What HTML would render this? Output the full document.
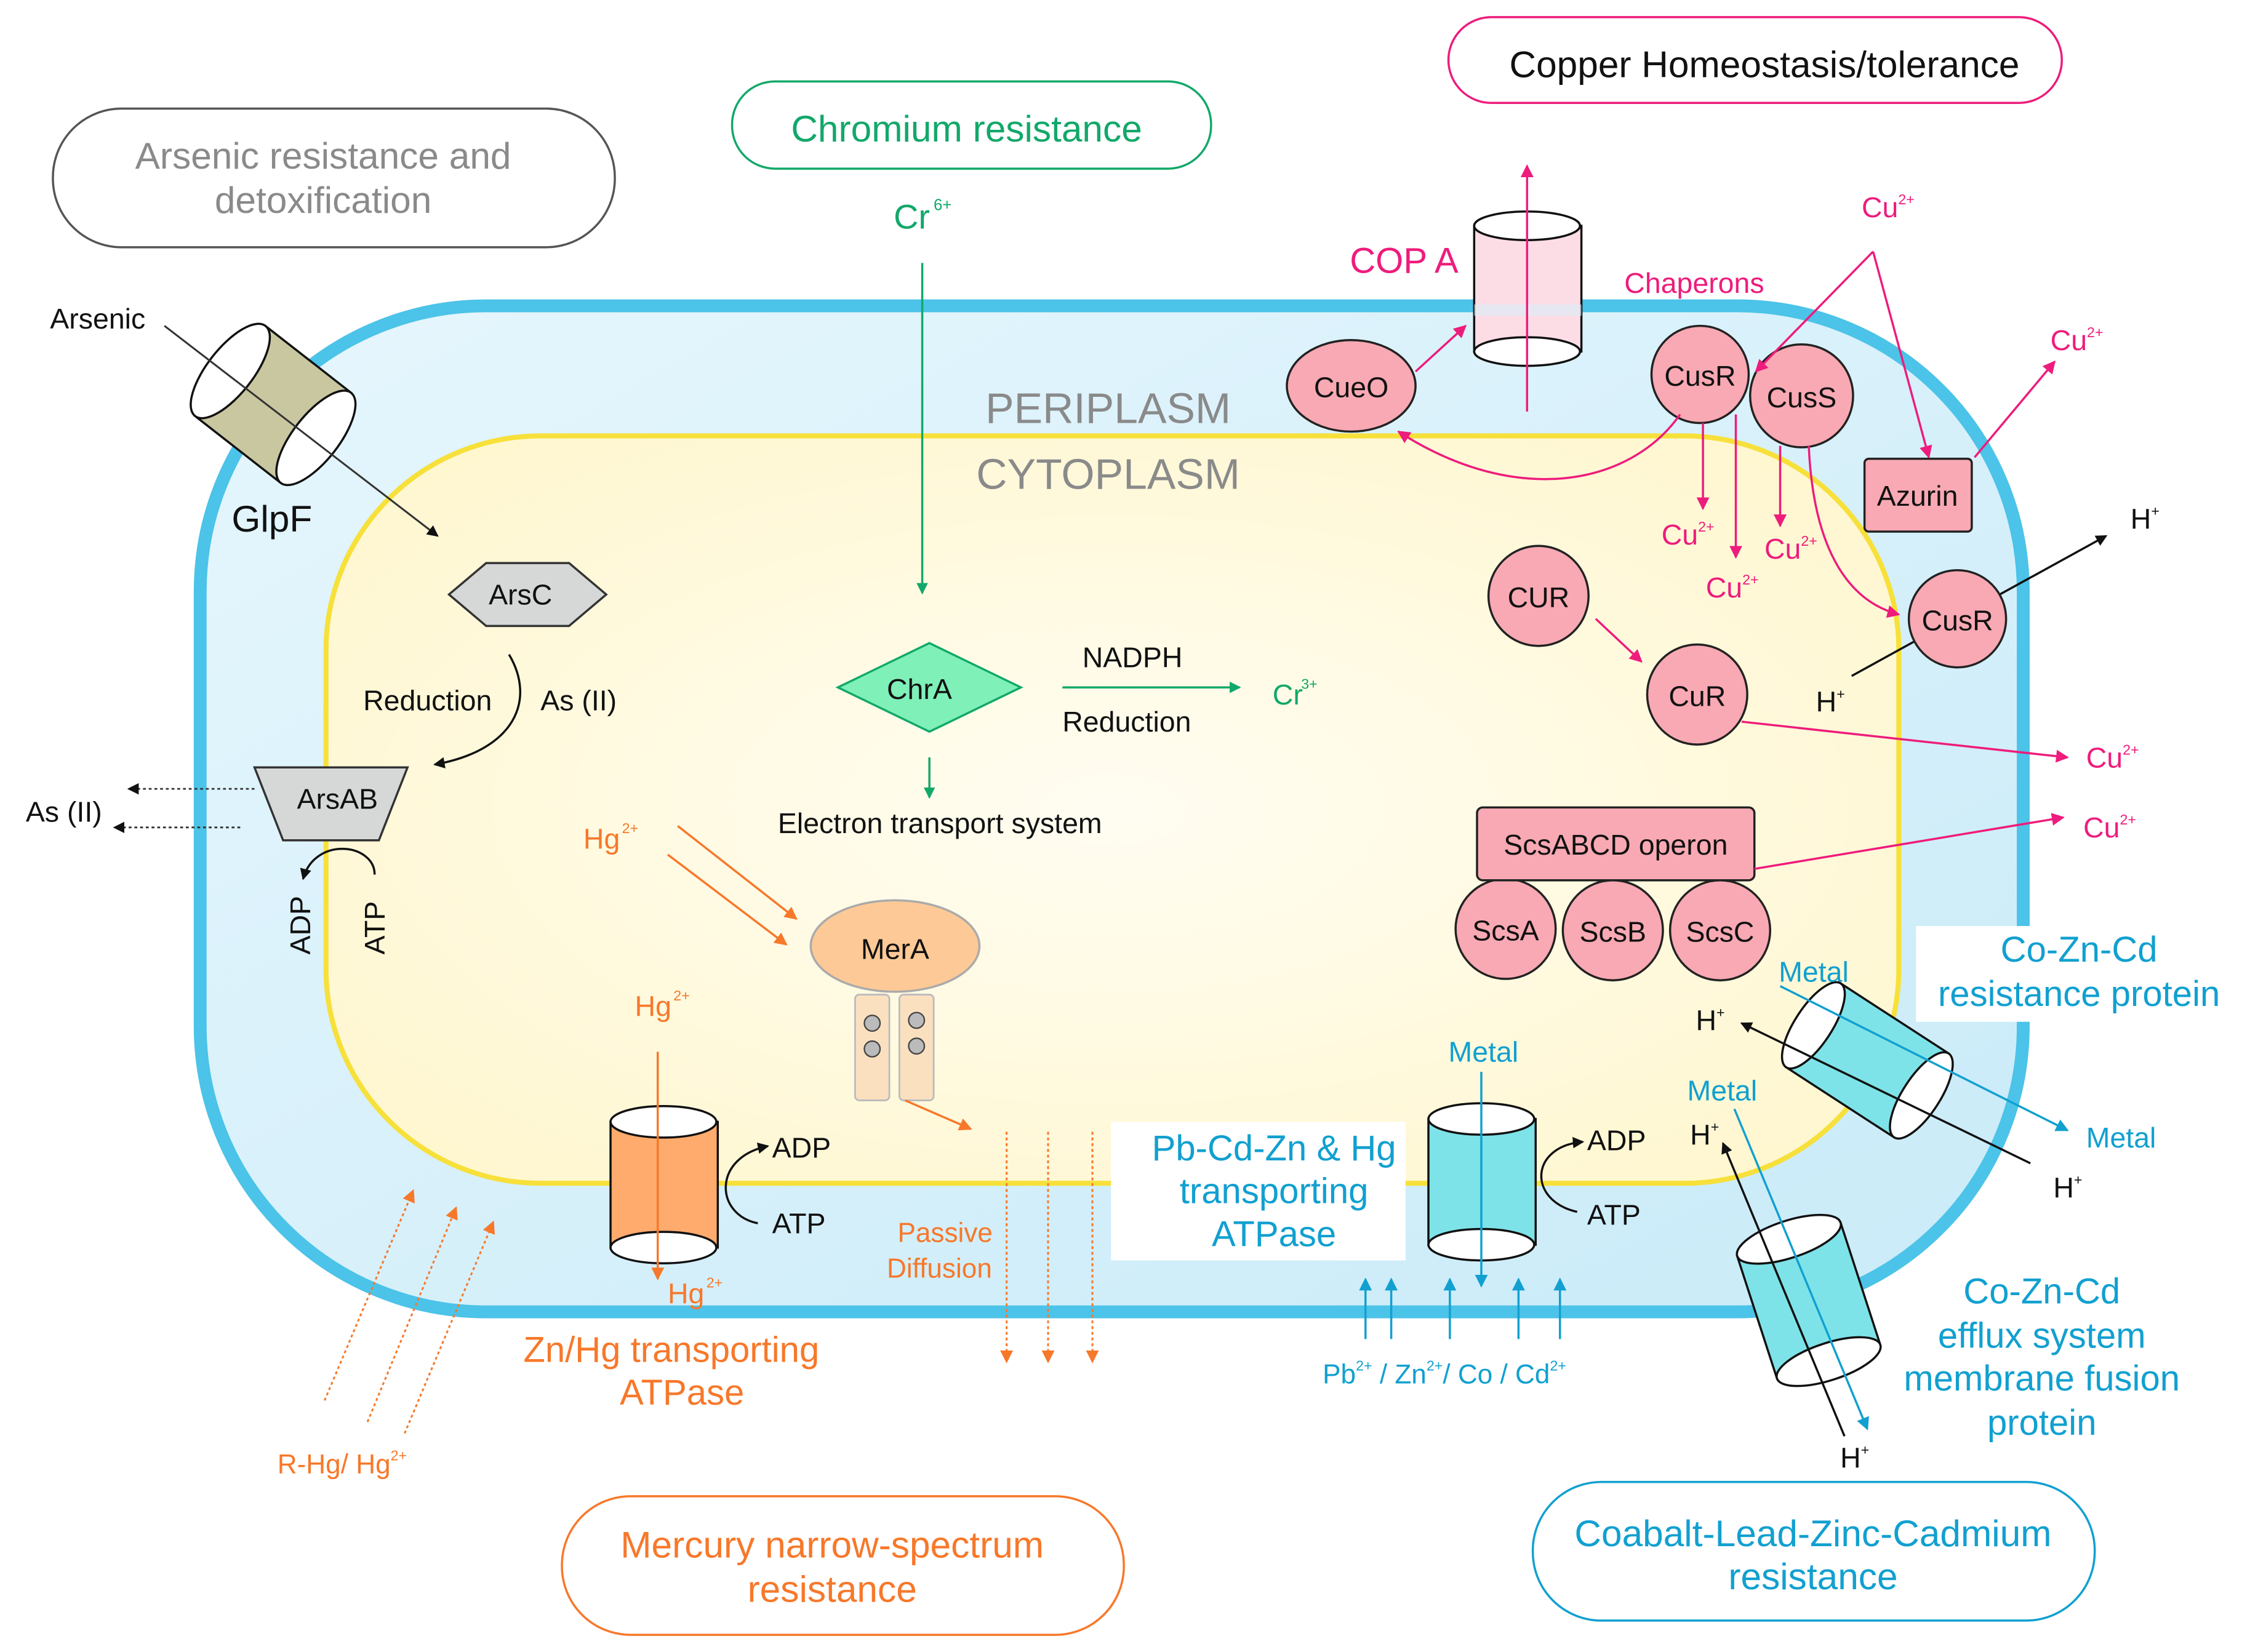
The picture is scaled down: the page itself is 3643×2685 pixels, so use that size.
<!DOCTYPE html>
<html><head><meta charset="utf-8"><style>
html,body{margin:0;padding:0;background:#fff}
svg{display:block}
text{font-family:"Liberation Sans",sans-serif}
</style></head><body>
<svg width="3643" height="2685" viewBox="0 0 1568 1156" preserveAspectRatio="none" xmlns="http://www.w3.org/2000/svg">
<defs>
<linearGradient id="bl" x1="0" y1="0" x2="1" y2="1"><stop offset="0" stop-color="#e6f6fd"/><stop offset="1" stop-color="#c9ebf8"/></linearGradient>
<radialGradient id="yl" cx="0.5" cy="0.5" r="0.7"><stop offset="0" stop-color="#fffdf2"/><stop offset="1" stop-color="#fff6cc"/></radialGradient>
<marker id="ak" markerWidth="8" markerHeight="8" refX="7" refY="4" orient="auto" markerUnits="userSpaceOnUse"><path d="M0,0 L8,4 L0,8 z" fill="#111"/></marker>
<marker id="ag" markerWidth="8" markerHeight="8" refX="7" refY="4" orient="auto" markerUnits="userSpaceOnUse"><path d="M0,0 L8,4 L0,8 z" fill="#12a86a"/></marker>
<marker id="ao" markerWidth="9" markerHeight="9" refX="8" refY="4.5" orient="auto" markerUnits="userSpaceOnUse"><path d="M0,0 L9,4.5 L0,9 z" fill="#f7782a"/></marker>
<marker id="ap" markerWidth="9" markerHeight="9" refX="8" refY="4.5" orient="auto" markerUnits="userSpaceOnUse"><path d="M0,0 L9,4.5 L0,9 z" fill="#ee1c7c"/></marker>
<marker id="ab" markerWidth="9" markerHeight="9" refX="8" refY="4.5" orient="auto" markerUnits="userSpaceOnUse"><path d="M0,0 L9,4.5 L0,9 z" fill="#11a0d0"/></marker>
</defs>
<rect width="1568" height="1156" fill="#fff"/>
<rect x="140" y="214" width="1275" height="704" rx="200" fill="url(#bl)" stroke="#4cc3e8" stroke-width="9"/>
<rect x="228" y="305" width="1100" height="523" rx="150" fill="url(#yl)" stroke="#f7e03a" stroke-width="3.5"/>
<text x="775" y="296" font-size="30" fill="#8a8a8a" text-anchor="middle">PERIPLASM</text>
<text x="775" y="342" font-size="30" fill="#8a8a8a" text-anchor="middle">CYTOPLASM</text>

<rect x="37" y="76" width="393" height="97" rx="48" fill="#fff" stroke="#555" stroke-width="1.5"/>
<text x="226" y="118" font-size="26" fill="#8a8a8a" text-anchor="middle">Arsenic resistance and</text>
<text x="226" y="149" font-size="26" fill="#8a8a8a" text-anchor="middle">detoxification</text>
<rect x="512" y="57" width="335" height="61" rx="30" fill="#fff" stroke="#12a86a" stroke-width="1.5"/>
<text x="676" y="99" font-size="26" fill="#12a86a" text-anchor="middle">Chromium resistance</text>
<rect x="1013" y="12" width="429" height="60" rx="30" fill="#fff" stroke="#ee1c7c" stroke-width="1.5"/>
<text x="1234" y="54" font-size="26" fill="#111" text-anchor="middle">Copper Homeostasis/tolerance</text>
<rect x="393" y="1047" width="393" height="97" rx="48" fill="#fff" stroke="#f7782a" stroke-width="1.5"/>
<text x="582" y="1090" font-size="26" fill="#f7782a" text-anchor="middle">Mercury narrow-spectrum</text>
<text x="582" y="1121" font-size="26" fill="#f7782a" text-anchor="middle">resistance</text>
<rect x="1072" y="1037" width="393" height="97" rx="48" fill="#fff" stroke="#11a0d0" stroke-width="1.5"/>
<text x="1268" y="1082" font-size="26" fill="#11a0d0" text-anchor="middle">Coabalt-Lead-Zinc-Cadmium</text>
<text x="1268" y="1112" font-size="26" fill="#11a0d0" text-anchor="middle">resistance</text>

<text x="35" y="230" font-size="20" fill="#111">Arsenic</text>
<g transform="translate(191,283) rotate(38)">
<rect x="-38" y="-40" width="76" height="80" fill="#c9c7a0" stroke="#111" stroke-width="1.5"/>
<ellipse cx="-38" cy="0" rx="16" ry="40" fill="#fff" stroke="#111" stroke-width="1.5"/>
<ellipse cx="38" cy="0" rx="16" ry="40" fill="#fff" stroke="#111" stroke-width="1.5"/>
</g>
<line x1="115" y1="228" x2="306" y2="375" stroke="#333" stroke-width="1.3" marker-end="url(#ak)"/>
<text x="162" y="372" font-size="26" fill="#111">GlpF</text>
<polygon points="314,416 340,394 398,394 424,416 398,438 340,438" fill="#d6d8d8" stroke="#333" stroke-width="1.5"/>
<text x="364" y="423" font-size="20" fill="#111" text-anchor="middle">ArsC</text>
<text x="254" y="497" font-size="20" fill="#111">Reduction</text>
<text x="378" y="497" font-size="20" fill="#111">As (II)</text>
<path d="M356,458 C375,490 360,525 304,535" fill="none" stroke="#111" stroke-width="1.5" marker-end="url(#ak)"/>
<polygon points="178,537 285,537 265,588 198,588" fill="#d6d8d8" stroke="#333" stroke-width="1.5"/>
<text x="236" y="566" font-size="20" fill="#111" text-anchor="middle">ArsAB</text>
<line x1="178" y1="552" x2="90" y2="552" stroke="#333" stroke-width="1.2" stroke-dasharray="2,2" marker-end="url(#ak)"/>
<line x1="168" y1="579" x2="80" y2="579" stroke="#333" stroke-width="1.2" stroke-dasharray="2,2" marker-end="url(#ak)"/>
<text x="18" y="575" font-size="20" fill="#111">As (II)</text>
<path d="M262,612 C262,590 220,585 212,615" fill="none" stroke="#111" stroke-width="1.5" marker-end="url(#ak)"/>
<text transform="translate(217,668) rotate(-90)" font-size="20" fill="#111">ADP</text>
<text transform="translate(269,668) rotate(-90)" font-size="20" fill="#111">ATP</text>

<text x="625" y="160" font-size="24" fill="#12a86a">Cr</text><text x="653" y="147" font-size="11" fill="#12a86a">6+</text>
<line x1="645" y1="184" x2="645" y2="415" stroke="#12a86a" stroke-width="1.5" marker-end="url(#ag)"/>
<polygon points="586,481 650,450 714,481 650,512" fill="#7ff0b8" stroke="#12a86a" stroke-width="1.5"/>
<text x="643" y="489" font-size="20" fill="#111" text-anchor="middle">ChrA</text>
<text x="757" y="467" font-size="20" fill="#111">NADPH</text>
<line x1="743" y1="481" x2="867" y2="481" stroke="#12a86a" stroke-width="1.5" marker-end="url(#ag)"/>
<text x="743" y="512" font-size="20" fill="#111">Reduction</text>
<text x="890" y="493" font-size="20" fill="#12a86a">Cr</text><text x="910" y="482" font-size="10" fill="#12a86a">3+</text>
<line x1="650" y1="530" x2="650" y2="558" stroke="#12a86a" stroke-width="1.5" marker-end="url(#ag)"/>
<text x="544" y="583" font-size="20" fill="#111">Electron transport system</text>

<text x="408" y="594" font-size="20" fill="#f7782a">Hg</text><text x="435" y="583" font-size="10" fill="#f7782a">2+</text>
<line x1="474" y1="578" x2="557" y2="643" stroke="#f7782a" stroke-width="1.5" marker-end="url(#ao)"/>
<line x1="467" y1="598" x2="550" y2="661" stroke="#f7782a" stroke-width="1.5" marker-end="url(#ao)"/>
<ellipse cx="626" cy="662" rx="59" ry="32" fill="#fdc996" stroke="#aaa" stroke-width="1.5"/>
<text x="626" y="671" font-size="20" fill="#111" text-anchor="middle">MerA</text>
<rect x="598" y="696" width="24" height="74" rx="3" fill="#fbe0c0" stroke="#bbb" stroke-width="1.2"/>
<rect x="629" y="696" width="24" height="74" rx="3" fill="#fbe0c0" stroke="#bbb" stroke-width="1.2"/>
<circle cx="610" cy="716" r="5.5" fill="#bbb" stroke="#444"/><circle cx="610" cy="734" r="5.5" fill="#bbb" stroke="#444"/>
<circle cx="641" cy="714" r="5.5" fill="#bbb" stroke="#444"/><circle cx="641" cy="732" r="5.5" fill="#bbb" stroke="#444"/>
<line x1="633" y1="770" x2="679" y2="790" stroke="#f7782a" stroke-width="1.5" marker-end="url(#ao)"/>
<text x="444" y="711" font-size="20" fill="#f7782a">Hg</text><text x="471" y="700" font-size="10" fill="#f7782a">2+</text>
<rect x="427" y="785" width="75" height="88" fill="#ffab6e" stroke="#111" stroke-width="1.5"/>
<ellipse cx="464" cy="873" rx="37" ry="11" fill="#fff" stroke="#111" stroke-width="1.5"/>
<ellipse cx="464" cy="785" rx="37" ry="11" fill="#fff" stroke="#111" stroke-width="1.5"/>
<line x1="460" y1="736" x2="460" y2="895" stroke="#f7782a" stroke-width="1.5" marker-end="url(#ao)"/>
<text x="467" y="912" font-size="20" fill="#f7782a">Hg</text><text x="494" y="901" font-size="10" fill="#f7782a">2+</text>
<path d="M530,856 C500,850 498,810 537,802" fill="none" stroke="#111" stroke-width="1.5" marker-end="url(#ak)"/>
<text x="540" y="810" font-size="20" fill="#111">ADP</text>
<text x="540" y="863" font-size="20" fill="#111">ATP</text>
<text x="366" y="953" font-size="25" fill="#f7782a">Zn/Hg transporting</text>
<text x="477" y="983" font-size="25" fill="#f7782a" text-anchor="middle">ATPase</text>
<text x="661" y="869" font-size="19" fill="#f7782a" text-anchor="middle">Passive</text>
<text x="657" y="894" font-size="19" fill="#f7782a" text-anchor="middle">Diffusion</text>
<line x1="704" y1="792" x2="704" y2="953" stroke="#f7782a" stroke-width="1.3" stroke-dasharray="2,2" marker-end="url(#ao)"/>
<line x1="733" y1="792" x2="733" y2="953" stroke="#f7782a" stroke-width="1.3" stroke-dasharray="2,2" marker-end="url(#ao)"/>
<line x1="764" y1="792" x2="764" y2="953" stroke="#f7782a" stroke-width="1.3" stroke-dasharray="2,2" marker-end="url(#ao)"/>
<line x1="227" y1="980" x2="289" y2="833" stroke="#f7782a" stroke-width="1.3" stroke-dasharray="2,2" marker-end="url(#ao)"/>
<line x1="257" y1="995" x2="319" y2="845" stroke="#f7782a" stroke-width="1.3" stroke-dasharray="2,2" marker-end="url(#ao)"/>
<line x1="283" y1="1003" x2="345" y2="855" stroke="#f7782a" stroke-width="1.3" stroke-dasharray="2,2" marker-end="url(#ao)"/>
<text x="194" y="1031" font-size="19" fill="#f7782a">R-Hg/ Hg<tspan font-size="10" dy="-9">2+</tspan></text>

<rect x="777" y="785" width="206" height="97" fill="#fff"/>
<text x="891" y="812" font-size="25" fill="#11a0d0" text-anchor="middle">Pb-Cd-Zn &amp; Hg</text>
<text x="891" y="842" font-size="25" fill="#11a0d0" text-anchor="middle">transporting</text>
<text x="891" y="872" font-size="25" fill="#11a0d0" text-anchor="middle">ATPase</text>
<text x="1013" y="743" font-size="20" fill="#11a0d0">Metal</text>
<rect x="999" y="783" width="75" height="88" fill="#7ee3e8" stroke="#111" stroke-width="1.5"/>
<ellipse cx="1036" cy="871" rx="37" ry="11" fill="#fff" stroke="#111" stroke-width="1.5"/>
<ellipse cx="1036" cy="783" rx="37" ry="11" fill="#fff" stroke="#111" stroke-width="1.5"/>
<line x1="1036" y1="750" x2="1036" y2="900" stroke="#11a0d0" stroke-width="1.5" marker-end="url(#ab)"/>
<path d="M1103,848 C1068,840 1070,802 1107,799" fill="none" stroke="#111" stroke-width="1.5" marker-end="url(#ak)"/>
<text x="1110" y="805" font-size="20" fill="#111">ADP</text>
<text x="1110" y="857" font-size="20" fill="#111">ATP</text>
<g stroke="#11a0d0" stroke-width="1.5">
<line x1="955" y1="937" x2="955" y2="895" marker-end="url(#ab)"/>
<line x1="973" y1="937" x2="973" y2="895" marker-end="url(#ab)"/>
<line x1="1014" y1="937" x2="1014" y2="895" marker-end="url(#ab)"/>
<line x1="1062" y1="937" x2="1062" y2="895" marker-end="url(#ab)"/>
<line x1="1091" y1="937" x2="1091" y2="895" marker-end="url(#ab)"/>
</g>
<text x="925" y="968" font-size="19" fill="#11a0d0">Pb<tspan font-size="10" dy="-9">2+</tspan><tspan dy="9"> / Zn</tspan><tspan font-size="10" dy="-9">2+</tspan><tspan dy="9">/ Co / Cd</tspan><tspan font-size="10" dy="-9">2+</tspan></text>

<rect x="1340" y="648" width="222" height="67" fill="#fff"/>
<text x="1454" y="673" font-size="25" fill="#11a0d0" text-anchor="middle">Co-Zn-Cd</text>
<text x="1454" y="704" font-size="25" fill="#11a0d0" text-anchor="middle">resistance protein</text>
<g transform="translate(1306,742) rotate(33)">
<rect x="-45" y="-35" width="90" height="70" fill="#7ee3e8" stroke="#111" stroke-width="1.5"/>
<ellipse cx="-45" cy="0" rx="13" ry="35" fill="#fff" stroke="#111" stroke-width="1.5"/>
<ellipse cx="45" cy="0" rx="13" ry="35" fill="#fff" stroke="#111" stroke-width="1.5"/>
</g>
<text x="1244" y="687" font-size="20" fill="#11a0d0">Metal</text>
<line x1="1245" y1="690" x2="1446" y2="791" stroke="#11a0d0" stroke-width="1.5" marker-end="url(#ab)"/>
<text x="1459" y="803" font-size="20" fill="#11a0d0">Metal</text>
<line x1="1420" y1="814" x2="1218" y2="716" stroke="#111" stroke-width="1.5" marker-end="url(#ak)"/>
<text x="1186" y="721" font-size="20" fill="#111">H<tspan font-size="10" dy="-9">+</tspan></text>
<text x="1436" y="838" font-size="20" fill="#111">H<tspan font-size="10" dy="-9">+</tspan></text>
<g transform="translate(1265,910) rotate(-18)">
<rect x="-38" y="-45" width="76" height="90" fill="#7ee3e8" stroke="#111" stroke-width="1.5"/>
<ellipse cx="0" cy="-45" rx="38" ry="13" fill="#fff" stroke="#111" stroke-width="1.5"/>
<ellipse cx="0" cy="45" rx="38" ry="13" fill="#fff" stroke="#111" stroke-width="1.5"/>
</g>
<text x="1180" y="770" font-size="20" fill="#11a0d0">Metal</text>
<line x1="1213" y1="776" x2="1306" y2="1000" stroke="#11a0d0" stroke-width="1.5" marker-end="url(#ab)"/>
<line x1="1290" y1="1005" x2="1205" y2="800" stroke="#111" stroke-width="1.5" marker-end="url(#ak)"/>
<text x="1182" y="801" font-size="20" fill="#111">H<tspan font-size="10" dy="-9">+</tspan></text>
<text x="1287" y="1027" font-size="20" fill="#111">H<tspan font-size="10" dy="-9">+</tspan></text>
<text x="1428" y="912" font-size="25" fill="#11a0d0" text-anchor="middle">Co-Zn-Cd</text>
<text x="1428" y="943" font-size="25" fill="#11a0d0" text-anchor="middle">efflux system</text>
<text x="1428" y="973" font-size="25" fill="#11a0d0" text-anchor="middle">membrane fusion</text>
<text x="1428" y="1004" font-size="25" fill="#11a0d0" text-anchor="middle">protein</text>

<text x="944" y="191" font-size="25" fill="#ee1c7c">COP A</text>
<rect x="1031" y="158" width="75" height="88" fill="#fddde5" stroke="#111" stroke-width="1.5"/>
<rect x="1031" y="213" width="75" height="8" fill="#d8eef8" opacity="0.6"/>
<ellipse cx="1068" cy="246" rx="37" ry="10" fill="#fff" stroke="#111" stroke-width="1.5"/>
<ellipse cx="1068" cy="158" rx="37" ry="10" fill="#fff" stroke="#111" stroke-width="1.5"/>
<line x1="1068" y1="288" x2="1068" y2="116" stroke="#ee1c7c" stroke-width="1.5" marker-end="url(#ap)"/>
<ellipse cx="945" cy="270" rx="45" ry="32" fill="#f8a9b3" stroke="#222" stroke-width="1.5"/>
<text x="945" y="278" font-size="20" fill="#111" text-anchor="middle">CueO</text>
<line x1="990" y1="260" x2="1025" y2="228" stroke="#ee1c7c" stroke-width="1.5" marker-end="url(#ap)"/>
<text x="1136" y="205" font-size="20" fill="#ee1c7c">Chaperons</text>
<text x="1302" y="152" font-size="20" fill="#ee1c7c">Cu<tspan font-size="10" dy="-9">2+</tspan></text>
<line x1="1310" y1="176" x2="1349" y2="320" stroke="#ee1c7c" stroke-width="1.5" marker-end="url(#ap)"/>
<circle cx="1260" cy="277" r="36" fill="#f8a9b3" stroke="#222" stroke-width="1.5"/>
<text x="1260" y="285" font-size="20" fill="#111" text-anchor="middle">CusS</text>
<circle cx="1189" cy="262" r="34" fill="#f8a9b3" stroke="#222" stroke-width="1.5"/>
<text x="1189" y="270" font-size="20" fill="#111" text-anchor="middle">CusR</text>
<line x1="1310" y1="176" x2="1228" y2="260" stroke="#ee1c7c" stroke-width="1.5" marker-end="url(#ap)"/>
<path d="M1175,290 C1140,340 1060,355 978,302" fill="none" stroke="#ee1c7c" stroke-width="1.5" marker-end="url(#ap)"/>
<line x1="1191" y1="296" x2="1191" y2="356" stroke="#ee1c7c" stroke-width="1.5" marker-end="url(#ap)"/>
<line x1="1214" y1="290" x2="1214" y2="390" stroke="#ee1c7c" stroke-width="1.5" marker-end="url(#ap)"/>
<line x1="1245" y1="312" x2="1245" y2="368" stroke="#ee1c7c" stroke-width="1.5" marker-end="url(#ap)"/>
<text x="1162" y="381" font-size="20" fill="#ee1c7c">Cu<tspan font-size="10" dy="-9">2+</tspan></text>
<text x="1193" y="418" font-size="20" fill="#ee1c7c">Cu<tspan font-size="10" dy="-9">2+</tspan></text>
<text x="1234" y="391" font-size="20" fill="#ee1c7c">Cu<tspan font-size="10" dy="-9">2+</tspan></text>
<path d="M1265,312 C1268,380 1290,420 1328,430" fill="none" stroke="#ee1c7c" stroke-width="1.5" marker-end="url(#ap)"/>
<rect x="1304" y="321" width="75" height="51" rx="3" fill="#f8a9b3" stroke="#222" stroke-width="1.5"/>
<text x="1341" y="354" font-size="20" fill="#111" text-anchor="middle">Azurin</text>
<line x1="1381" y1="320" x2="1437" y2="253" stroke="#ee1c7c" stroke-width="1.5" marker-end="url(#ap)"/>
<text x="1434" y="245" font-size="20" fill="#ee1c7c">Cu<tspan font-size="10" dy="-9">2+</tspan></text>
<line x1="1295" y1="473" x2="1473" y2="375" stroke="#111" stroke-width="1.5" marker-end="url(#ak)"/>
<circle cx="1369" cy="433" r="34" fill="#f8a9b3" stroke="#222" stroke-width="1.5"/>
<text x="1369" y="441" font-size="20" fill="#111" text-anchor="middle">CusR</text>
<text x="1490" y="370" font-size="20" fill="#111">H<tspan font-size="10" dy="-9">+</tspan></text>
<text x="1270" y="498" font-size="20" fill="#111">H<tspan font-size="10" dy="-9">+</tspan></text>
<circle cx="1076" cy="417" r="35" fill="#f8a9b3" stroke="#222" stroke-width="1.5"/>
<text x="1076" y="425" font-size="20" fill="#111" text-anchor="middle">CUR</text>
<line x1="1116" y1="433" x2="1148" y2="463" stroke="#ee1c7c" stroke-width="1.5" marker-end="url(#ap)"/>
<circle cx="1187" cy="486" r="35" fill="#f8a9b3" stroke="#222" stroke-width="1.5"/>
<text x="1187" y="494" font-size="20" fill="#111" text-anchor="middle">CuR</text>
<line x1="1218" y1="505" x2="1446" y2="530" stroke="#ee1c7c" stroke-width="1.5" marker-end="url(#ap)"/>
<text x="1459" y="537" font-size="20" fill="#ee1c7c">Cu<tspan font-size="10" dy="-9">2+</tspan></text>
<circle cx="1053" cy="650" r="35" fill="#f8a9b3" stroke="#222" stroke-width="1.5"/>
<circle cx="1128" cy="651" r="35" fill="#f8a9b3" stroke="#222" stroke-width="1.5"/>
<circle cx="1203" cy="651" r="35" fill="#f8a9b3" stroke="#222" stroke-width="1.5"/>
<text x="1053" y="658" font-size="20" fill="#111" text-anchor="middle">ScsA</text>
<text x="1128" y="659" font-size="20" fill="#111" text-anchor="middle">ScsB</text>
<text x="1203" y="659" font-size="20" fill="#111" text-anchor="middle">ScsC</text>
<rect x="1033" y="565" width="194" height="51" rx="4" fill="#f8a9b3" stroke="#222" stroke-width="1.5"/>
<text x="1130" y="598" font-size="20" fill="#111" text-anchor="middle">ScsABCD operon</text>
<line x1="1227" y1="608" x2="1443" y2="572" stroke="#ee1c7c" stroke-width="1.5" marker-end="url(#ap)"/>
<text x="1457" y="586" font-size="20" fill="#ee1c7c">Cu<tspan font-size="10" dy="-9">2+</tspan></text>
</svg>
</body></html>
